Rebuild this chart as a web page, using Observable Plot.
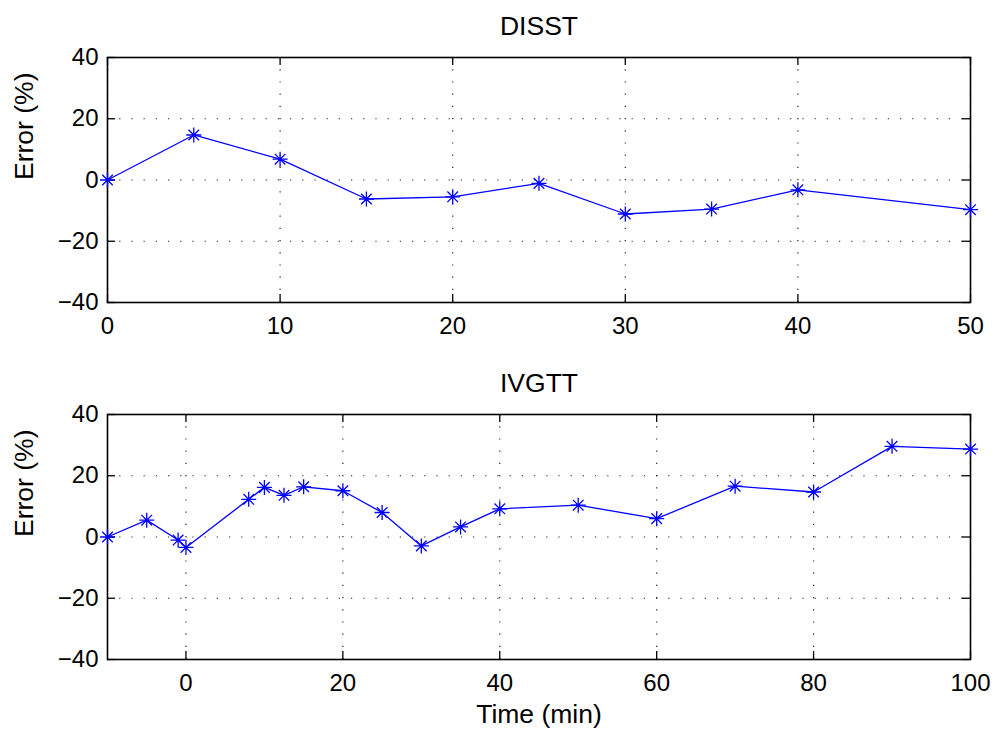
<!DOCTYPE html>
<html>
<head>
<meta charset="utf-8">
<script src="https://cdn.jsdelivr.net/npm/d3@7"></script>
<script src="https://cdn.jsdelivr.net/npm/@observablehq/plot@0.6"></script>
<style>
  html, body { margin: 0; padding: 0; background: #fff; }
  #chart svg { display: block; }
</style>
</head>
<body>
<div id="chart"></div>
<script>
// ---- Data ----
const disstTime  = [0, 5, 10, 15, 20, 25, 30, 35, 40, 50];
const disstError = [0, 14.7, 6.8, -6.2, -5.5, -1.1, -11.1, -9.5, -3.2, -9.7];

const ivgttTime  = [-10, -5, -1, 0, 8, 10, 12.5, 15, 20, 25, 30, 35, 40, 50, 60, 70, 80, 90, 100];
const ivgttError = [0, 5.5, -1, -3.4, 12.3, 16.2, 13.6, 16.4, 15.1, 8.0, -2.9, 3.3, 9.2, 10.4, 6.0, 16.6, 14.7, 29.6, 28.7];

const yTicks = [-40, -20, 0, 20, 40];
const disstXTicks = [0, 10, 20, 30, 40, 50];
const ivgttXTicks = [0, 20, 40, 60, 80, 100];

const titles = ["DISST", "IVGTT"];
const yLabel = "Error (%)";
const xLabel = "Time (min)";

// MATLAB-style 8-arm asterisk
const asterisk = {
  draw(ctx, size) {
    const r = Math.sqrt(size / Math.PI);
    const d = r * Math.SQRT1_2;
    ctx.moveTo(0, -r); ctx.lineTo(0, r);
    ctx.moveTo(-r, 0); ctx.lineTo(r, 0);
    ctx.moveTo(-d, -d); ctx.lineTo(d, d);
    ctx.moveTo(-d, d); ctx.lineTo(d, -d);
  }
};

const FONT = "'Liberation Sans', Arial, Helvetica, sans-serif";
const blue = "#0000ff";
const W = 997, H = 367, ML = 107, MR = 27, TICK = 8;

function panel({time, error, xDomain, xTicks, title, marginTop, marginBottom, showXLabel}) {
  const data = time.map((t, i) => ({t, e: error[i]}));
  const plotW = W - ML - MR;
  const plotH = H - marginTop - marginBottom;
  const marks = [
    Plot.gridX(xTicks, {stroke: "#222", strokeOpacity: 1, strokeWidth: 1.2, strokeDasharray: "1.2,11"}),
    Plot.gridY(yTicks, {stroke: "#222", strokeOpacity: 1, strokeWidth: 1.2, strokeDasharray: "1.2,11"}),
    // tick labels
    Plot.axisX(xTicks, {anchor: "bottom", tickSize: 0, tickPadding: 14, label: null}),
    Plot.axisY(yTicks, {anchor: "left", tickSize: 0, tickPadding: 9, label: null}),
    // inward ticks on all four sides
    Plot.tickX(xTicks, {x: d => d, insetTop: plotH - TICK, stroke: "#000", strokeWidth: 1.3}),
    Plot.tickX(xTicks, {x: d => d, insetBottom: plotH - TICK, stroke: "#000", strokeWidth: 1.3}),
    Plot.tickY(yTicks, {y: d => d, insetRight: plotW - TICK, stroke: "#000", strokeWidth: 1.3}),
    Plot.tickY(yTicks, {y: d => d, insetLeft: plotW - TICK, stroke: "#000", strokeWidth: 1.3}),
    Plot.frame({stroke: "#000", strokeWidth: 1.6}),
    Plot.line(data, {x: "t", y: "e", stroke: blue, strokeWidth: 1.3}),
    Plot.dot(data, {x: "t", y: "e", symbol: asterisk, r: 7.5, stroke: blue, strokeWidth: 1.3, fill: "none"}),
    Plot.text([title], {frameAnchor: "top", lineAnchor: "middle", dy: -31, fontSize: 26.5, fill: "#000"}),
    Plot.text([yLabel], {frameAnchor: "left", lineAnchor: "middle", dx: -83, rotate: -90, fontSize: 26.5, fill: "#000"})
  ];
  if (showXLabel) {
    marks.push(Plot.text([xLabel], {frameAnchor: "bottom", lineAnchor: "middle", dy: 55.5, fontSize: 26.5, fill: "#000"}));
  }
  return Plot.plot({
    width: W,
    height: H,
    marginLeft: ML,
    marginRight: MR,
    marginTop,
    marginBottom,
    style: {fontFamily: FONT, fontSize: "24px", color: "#000", background: "#fff", overflow: "visible"},
    x: {domain: xDomain, label: null},
    y: {domain: [-40, 40], label: null},
    marks
  });
}

const chart = document.getElementById("chart");
chart.appendChild(panel({
  time: disstTime, error: disstError, xDomain: [0, 50], xTicks: disstXTicks,
  title: titles[0], marginTop: 57, marginBottom: 65, showXLabel: false
}));
chart.appendChild(panel({
  time: ivgttTime, error: ivgttError, xDomain: [-10, 100], xTicks: ivgttXTicks,
  title: titles[1], marginTop: 47, marginBottom: 75, showXLabel: true
}));
</script>
</body>
</html>
